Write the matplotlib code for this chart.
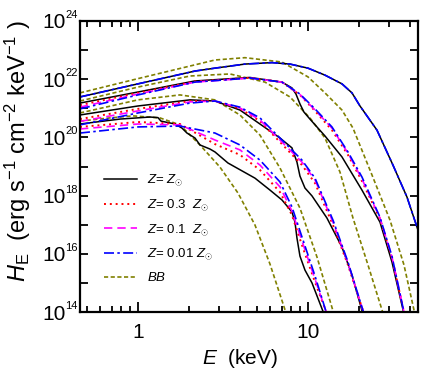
import matplotlib
matplotlib.use('Agg')
import matplotlib.pyplot as plt
import numpy as np
from matplotlib.ticker import FixedLocator, NullFormatter

plt.rcParams['font.family'] = ['Liberation Sans', 'DejaVu Sans']
plt.rcParams['mathtext.fontset'] = 'custom'
plt.rcParams['mathtext.rm'] = 'Liberation Sans'
plt.rcParams['mathtext.it'] = 'Liberation Sans:italic'
plt.rcParams['mathtext.bf'] = 'Liberation Sans:bold'

# energies in keV, spectra as log10(H_E)
# group 1 (hottest) - all Z coincide
e_g1 = [0.456, 1.0, 2.164, 2.838, 4.26, 6.141, 7.837, 10.0, 12.59, 15.85, 18.15, 20.23, 25.47, 31.62, 38.24, 44.37]
h_g1 = [21.39, 21.84, 22.28, 22.38, 22.52, 22.57, 22.52, 22.38, 22.14, 21.84, 21.53, 21.08, 20.25, 19.05, 17.95, 16.82]
e_g1_bb = [0.456, 1.0, 2.838, 4.26, 7.032, 10.0, 12.59, 15.85, 18.40, 23.80, 30.37, 36.71, 42.3]
h_g1_bb = [21.53, 22.02, 22.66, 22.74, 22.59, 22.08, 21.53, 20.94, 20.32, 18.71, 17.16, 15.62, 14.0]

# group 2
e_g2_bb = [0.456, 1.0, 2.023, 3.477, 5.586, 7.837, 10.27, 12.59, 15.43, 18.40, 22.54, 27.5]
h_g2_bb = [21.25, 21.73, 22.11, 22.18, 21.90, 21.39, 20.67, 19.98, 18.81, 17.23, 15.62, 14.0]
e_g2_sun = [0.456, 1.0, 2.164, 4.559, 7.032, 8.052, 8.501, 8.974, 9.474, 10.27, 12.59, 15.85, 20.78, 26.52, 31.20, 36.5]
h_g2_sun = [21.18, 21.56, 21.94, 22.06, 21.90, 21.70, 21.49, 21.15, 20.87, 20.63, 20.05, 19.33, 18.19, 17.09, 15.72, 14.0]
e_g2 = [0.456, 1.0, 2.164, 4.559, 7.032, 8.974, 11.00, 13.84, 17.19, 20.78, 26.52, 31.20, 36.7]
h_g2_03 = [21.11, 21.53, 21.92, 22.05, 21.90, 21.46, 20.91, 20.25, 19.40, 18.50, 17.20, 15.86, 14.0]
h_g2_01 = [21.04, 21.49, 21.90, 22.04, 21.90, 21.47, 20.94, 20.32, 19.46, 18.57, 17.23, 15.89, 14.0]
h_g2_001 = [20.98, 21.46, 21.90, 22.04, 21.90, 21.49, 20.98, 20.36, 19.50, 18.64, 17.26, 15.92, 14.0]

# group 3
e_g3_bb = [0.456, 1.0, 1.766, 2.838, 3.981, 5.220, 6.844, 8.974, 11.30, 14.1]
h_g3_bb = [20.84, 21.29, 21.46, 21.29, 20.77, 20.08, 18.95, 17.57, 15.89, 14.0]
e_g3_sun = [0.456, 1.0, 2.023, 2.838, 3.981, 5.220, 6.844, 8.052, 8.617, 8.974, 9.603, 10.56, 12.93, 15.85, 18.15, 20.9]
h_g3_sun = [20.77, 21.08, 21.29, 21.25, 20.94, 20.46, 19.98, 19.64, 19.15, 18.67, 18.26, 17.99, 17.23, 16.23, 15.27, 14.0]
e_g3 = [0.456, 1.0, 2.023, 2.838, 3.981, 5.220, 7.032, 9.220, 11.00, 14.03, 17.19, 21.2]
h_g3_03 = [20.63, 20.98, 21.25, 21.25, 20.99, 20.56, 19.77, 19.05, 18.43, 16.99, 15.62, 14.0]
h_g3_01 = [20.55, 20.91, 21.22, 21.25, 21.01, 20.60, 19.84, 19.15, 18.54, 17.09, 15.68, 14.0]
h_g3_001 = [20.43, 20.84, 21.18, 21.25, 21.04, 20.67, 19.91, 19.22, 18.60, 17.16, 15.72, 14.0]

# group 4 (coolest)
e_g4_bb = [0.456, 0.684, 0.935, 1.347, 1.766, 2.316, 3.036, 3.874, 4.878, 5.977, 7.4]
h_g4_bb = [20.56, 20.67, 20.74, 20.67, 20.43, 19.74, 18.98, 18.09, 16.99, 15.65, 14.0]
e_g4_sun = [0.456, 0.784, 1.177, 1.311, 1.366, 1.651, 1.815, 1.942, 2.164, 2.316, 2.652, 2.838,
            3.384, 4.878, 5.977, 7.032, 8.052, 8.386, 8.617, 8.974, 9.603, 10.56, 12.3]
h_g4_sun = [20.46, 20.63, 20.70, 20.68, 20.56, 20.46, 20.32, 20.15, 19.98, 19.74, 19.60, 19.50,
            19.12, 18.60, 18.19, 17.85, 17.44, 17.09, 16.54, 15.92, 15.44, 15.00, 14.0]
e_g4 = [0.456, 1.0, 1.766, 2.838, 3.981, 5.220, 6.844, 8.052, 9.220, 11.00, 12.8]
h_g4_03 = [20.36, 20.53, 20.46, 19.77, 19.40, 18.88, 18.12, 17.33, 16.30, 15.03, 14.0]
h_g4_01 = [20.29, 20.46, 20.43, 19.91, 19.57, 19.05, 18.30, 17.47, 16.44, 15.13, 14.0]
h_g4_001 = [20.15, 20.36, 20.39, 20.15, 19.74, 19.22, 18.47, 17.61, 16.58, 15.24, 14.0]

labels = [r'$Z$= $Z_{\odot}$', r'$Z$= 0.3  $Z_{\odot}$', r'$Z$= 0.1  $Z_{\odot}$',
          r'$Z$= 0.01 $Z_{\odot}$', r'$BB$']
y_decades = [14, 16, 18, 20, 22, 24]

olive = '#808000'
st_sun = dict(color='black', ls='-', lw=1.1)
st_03 = dict(color='red', ls=(0, (1, 2)), lw=1.4)
st_01 = dict(color='#ff00ff', ls=(0, (5, 3)), lw=1.2)
st_001 = dict(color='blue', ls=(0, (6, 2, 1.5, 2)), lw=1.2)
st_bb = dict(color=olive, ls=(0, (2.5, 1.5)), lw=1.2)

fig = plt.figure(figsize=(4.31, 3.76), dpi=100)
ax = fig.add_axes([80/431, 1-312/376, 338/431, 291/376])

def p(e, h, st, label=None):
    ax.plot(e, 10**np.array(h), label=label, **st)

p(e_g1_bb, h_g1_bb, st_bb)
p(e_g2_bb, h_g2_bb, st_bb)
p(e_g3_bb, h_g3_bb, st_bb)
p(e_g4_bb, h_g4_bb, st_bb, labels[4])

p(e_g1, h_g1, st_sun)
p(e_g2_sun, h_g2_sun, st_sun)
p(e_g3_sun, h_g3_sun, st_sun)
p(e_g4_sun, h_g4_sun, st_sun, labels[0])

p(e_g2, h_g2_03, st_03)
p(e_g3, h_g3_03, st_03)
p(e_g4, h_g4_03, st_03, labels[1])

p(e_g2, h_g2_01, st_01)
p(e_g3, h_g3_01, st_01)
p(e_g4, h_g4_01, st_01, labels[2])

p(e_g1, h_g1, st_001)
p(e_g2, h_g2_001, st_001)
p(e_g3, h_g3_001, st_001)
p(e_g4, h_g4_001, st_001, labels[3])

ax.set_xscale('log')
ax.set_yscale('log')
ax.set_xlim(0.456, 44.4)
ax.set_ylim(1e14, 1e24)

ax.set_xticks([1, 10])
ax.set_xticklabels(['1', '10'])
xminor = [0.5, 0.6, 0.7, 0.8, 0.9] + list(range(2, 10)) + [20, 30, 40]
ax.xaxis.set_minor_locator(FixedLocator(xminor))
ax.xaxis.set_minor_formatter(NullFormatter())

ax.yaxis.set_major_locator(FixedLocator([10.0**k for k in y_decades]))
ax.yaxis.set_major_formatter(NullFormatter())
ax.yaxis.set_minor_locator(FixedLocator([10.0**(k + 1) for k in y_decades[:-1]]))
ax.yaxis.set_minor_formatter(NullFormatter())

# y tick labels: "10" with a small exponent
for k in y_decades:
    ax.annotate('10', xy=(0, 10.0**k), xycoords=('axes fraction', 'data'),
                xytext=(-10.5, -5.4), textcoords='offset points',
                ha='right', va='baseline', fontsize=15, annotation_clip=False)
    ax.annotate(str(k), xy=(0, 10.0**k), xycoords=('axes fraction', 'data'),
                xytext=(-10.6, 2.2), textcoords='offset points',
                ha='left', va='baseline', fontsize=8, annotation_clip=False)

ax.tick_params(which='both', direction='in', top=True, right=True, width=1.3)
ax.tick_params(axis='x', which='major', length=7, pad=8, labelsize=15)
ax.tick_params(axis='x', which='minor', length=4)
ax.tick_params(axis='y', which='both', length=6)
for s in ax.spines.values():
    s.set_linewidth(1.6)

handles, labs = ax.get_legend_handles_labels()
order = [labs.index(l) for l in labels]
leg = ax.legend([handles[i] for i in order], [labs[i] for i in order],
                loc='upper left', bbox_to_anchor=(0.035, 0.52), frameon=False,
                fontsize=9.5, handlelength=2.5, handletextpad=0.75, labelspacing=0.68)

fig.text(240/431, 1-358/376, r'$E$  (keV)', ha='center', va='center', fontsize=15)
fig.text(18/431, 1-151/376, r'$H_{\rm E}$  (erg s$^{-1}$ cm$^{-2}$ keV$^{-1}$ )',
         ha='center', va='center', rotation=90, fontsize=17)

fig.savefig('out.png', dpi=100)
